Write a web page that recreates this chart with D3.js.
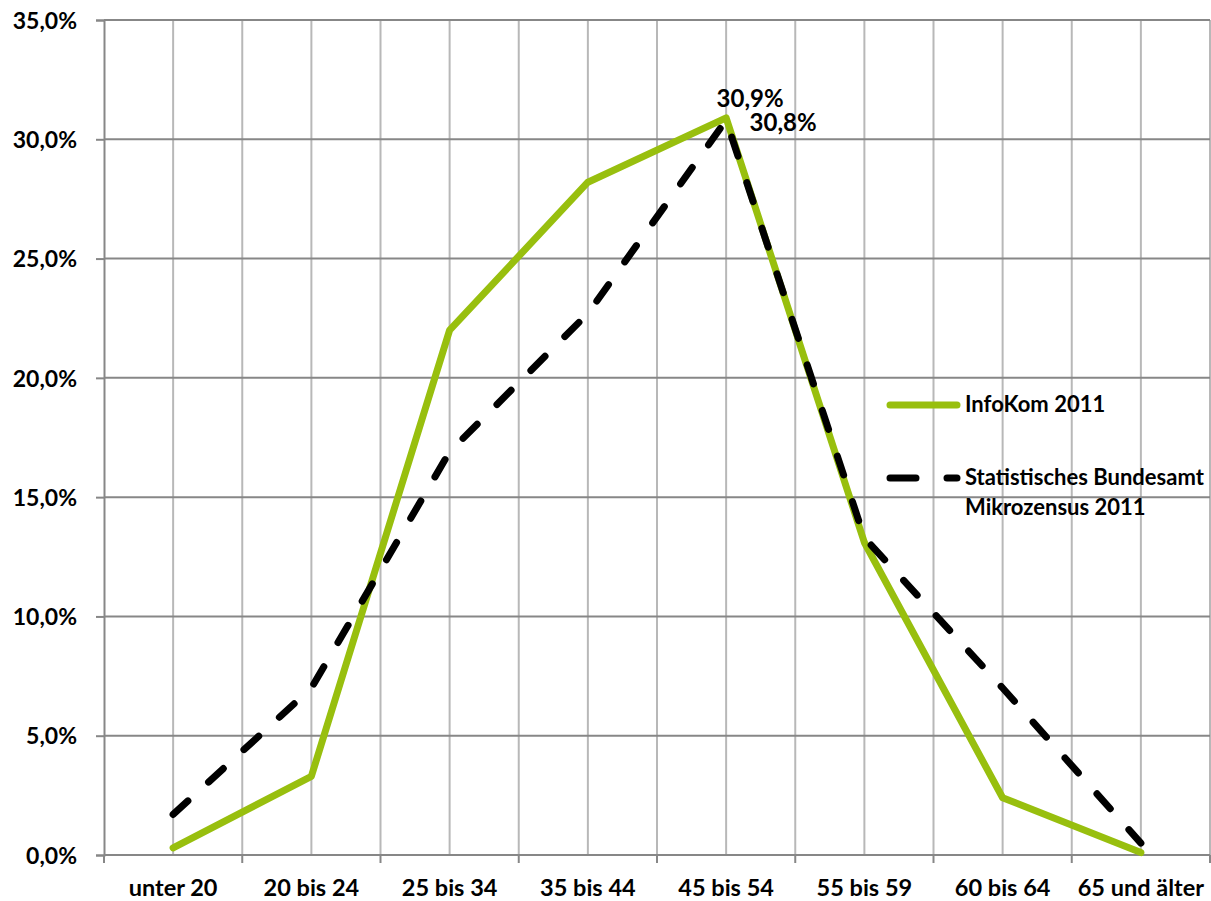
<!DOCTYPE html>
<html>
<head>
<meta charset="utf-8">
<script src="https://cdn.jsdelivr.net/npm/d3@7"></script>
<style>
  html, body { margin: 0; padding: 0; background: #fff; }
  svg { display: block; }
  text { font-family: Lato, "Open Sans", sans-serif; font-weight: bold; fill: #000; }
</style>
</head>
<body>
<svg id="chart" width="1211" height="901"></svg>
<script>
// Age groups on the x axis
const categories = ["unter 20", "20 bis 24", "25 bis 34", "35 bis 44", "45 bis 54", "55 bis 59", "60 bis 64", "65 und älter"];
// Share per age group, in percent
const infokom = [0.3, 3.3, 22.0, 28.2, 30.9, 13.1, 2.4, 0.1];
const mikrozensus = [1.7, 7.0, 16.9, 22.7, 30.8, 13.3, 7.0, 0.5];
const yTicks = [0, 5, 10, 15, 20, 25, 30, 35];
const seriesNames = ["InfoKom 2011", ["Statistisches Bundesamt", "Mikrozensus 2011"]];

const green = "#98bf0e";
const svg = d3.select("#chart");
const m = { left: 104, right: 1210, top: 20, bottom: 855 };

const x = d3.scaleBand().domain(categories).range([m.left, m.right]);
const cx = c => x(c) + x.bandwidth() / 2;
const y = d3.scaleLinear().domain([0, 35]).range([m.bottom, m.top]);
const fmt = v => d3.format(".1f")(v).replace(".", ",") + "%";

// vertical grid: at category centres and boundaries
const vLines = [];
categories.forEach(c => { vLines.push(cx(c)); vLines.push(x(c) + x.bandwidth()); });
svg.append("g").selectAll("line").data(vLines).join("line")
  .attr("x1", d => d).attr("x2", d => d)
  .attr("y1", m.top).attr("y2", m.bottom)
  .attr("stroke", "#b8b8b8").attr("stroke-width", 2);

// horizontal grid
svg.append("g").selectAll("line").data(yTicks.filter(t => t > 0)).join("line")
  .attr("x1", m.left).attr("x2", m.right)
  .attr("y1", d => y(d)).attr("y2", d => y(d))
  .attr("stroke", "#878787").attr("stroke-width", 2);

// y axis
const yAxis = svg.append("g").attr("transform", `translate(${m.left},0)`)
  .call(d3.axisLeft(y).tickValues(yTicks).tickSize(8).tickPadding(19).tickFormat(fmt));
yAxis.select(".domain").attr("stroke", "#878787").attr("stroke-width", 2);
yAxis.selectAll(".tick line").attr("stroke", "#878787").attr("stroke-width", 2);
yAxis.selectAll(".tick text").style("font-size", "23px").attr("dy", "0.36em");

// x axis with ticks at the category boundaries
const bounds = [m.left].concat(categories.map(c => x(c) + x.bandwidth()));
const xg = svg.append("g");
xg.append("line").attr("x1", m.left).attr("x2", m.right)
  .attr("y1", m.bottom).attr("y2", m.bottom)
  .attr("stroke", "#878787").attr("stroke-width", 2);
xg.selectAll("line.tick").data(bounds).join("line").attr("class", "tick")
  .attr("x1", d => d).attr("x2", d => d)
  .attr("y1", m.bottom).attr("y2", m.bottom + 8)
  .attr("stroke", "#878787").attr("stroke-width", 2);
xg.selectAll("text").data(categories).join("text")
  .attr("x", d => cx(d)).attr("y", 896)
  .attr("text-anchor", "middle").style("font-size", "23.5px")
  .text(d => d);

// series lines
const line = d3.line().x((d, i) => cx(categories[i])).y(d => y(d));
svg.append("path").datum(infokom).attr("d", line)
  .attr("fill", "none").attr("stroke", green).attr("stroke-width", 7)
  .attr("stroke-linejoin", "round").attr("stroke-linecap", "round");
svg.append("path").datum(mikrozensus).attr("d", line)
  .attr("fill", "none").attr("stroke", "#000").attr("stroke-width", 7)
  .attr("stroke-dasharray", "20,28").attr("stroke-linecap", "round")
  .attr("stroke-linejoin", "round");

// peak value labels
const peak = 4;
svg.append("text").attr("x", cx(categories[peak]) + 24).attr("y", y(infokom[peak]) - 11)
  .attr("text-anchor", "middle").style("font-size", "24px").text(fmt(infokom[peak]));
svg.append("text").attr("x", cx(categories[peak]) + 57).attr("y", y(mikrozensus[peak]) + 11)
  .attr("text-anchor", "middle").style("font-size", "24px").text(fmt(mikrozensus[peak]));

// legend
const lg = svg.append("g");
lg.append("line").attr("x1", 890).attr("x2", 957).attr("y1", 405).attr("y2", 405)
  .attr("stroke", green).attr("stroke-width", 7).attr("stroke-linecap", "round");
lg.append("text").attr("x", 965).attr("y", 412).style("font-size", "22px").text(seriesNames[0]);
lg.append("line").attr("x1", 890).attr("x2", 957).attr("y1", 478).attr("y2", 478)
  .attr("stroke", "#000").attr("stroke-width", 7).attr("stroke-linecap", "round")
  .attr("stroke-dasharray", "26,31");
lg.append("text").attr("x", 965).attr("y", 485).style("font-size", "22px").text(seriesNames[1][0]);
lg.append("text").attr("x", 965).attr("y", 515).style("font-size", "22px").text(seriesNames[1][1]);
</script>
</body>
</html>
